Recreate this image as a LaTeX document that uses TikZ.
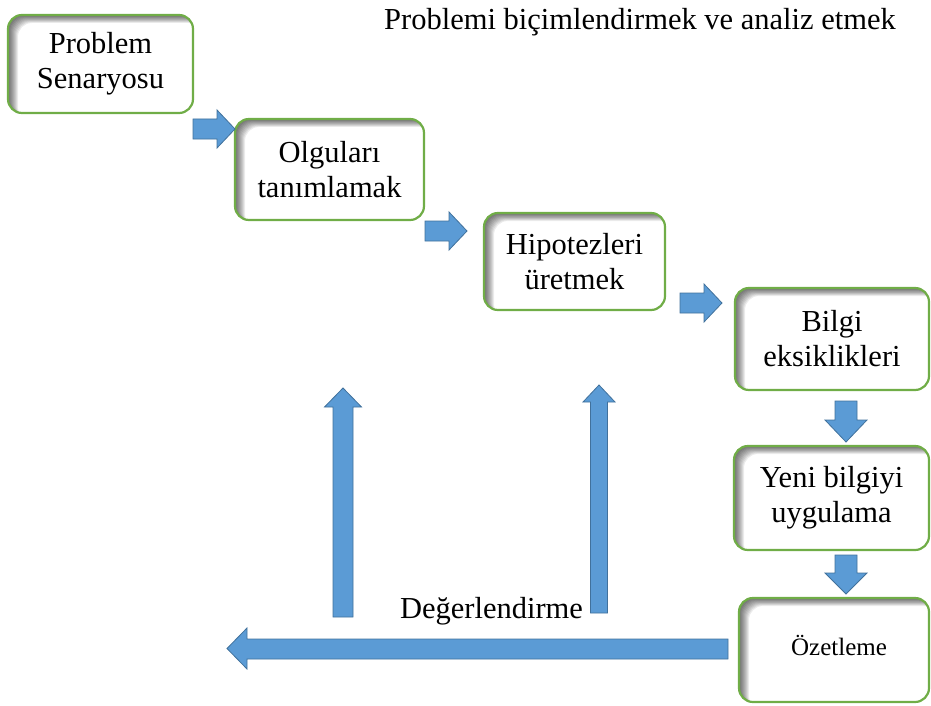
\documentclass[tikz,border=0pt]{standalone}
\usepackage{fontspec}
\setmainfont{Liberation Serif}
\definecolor{boxgreen}{HTML}{70AD47}
\definecolor{arrowfill}{HTML}{5B9BD5}
\definecolor{arrowedge}{HTML}{41719C}

% soft shadow along the inner top and left edges of a stage box
\newcommand\innershade[1]{%
  \begin{scope}
    \clip[rounded corners=14pt] (#1.south west) rectangle (#1.north east);
    \foreach \k in {1,...,10} {
      \fill[black, opacity=0.075, even odd rule]
        ([xshift=-20pt,yshift=20pt]#1.north west) rectangle ([xshift=20pt,yshift=-20pt]#1.south east)
        [rounded corners=14pt]
        ([xshift=\k pt,yshift=-0.8*\k pt]#1.north west) rectangle ([xshift=\k pt,yshift=-0.8*\k pt]#1.south east);
    }
  \end{scope}}

\begin{document}
\begin{tikzpicture}[x=1pt,y=-1pt,
  stage/.style={fill=white, align=center, inner sep=0pt, outer sep=0pt,
    rounded corners=14pt, font=\fontsize{30.5}{35}\selectfont},
  frame/.style={draw=boxgreen, line width=2.2pt, rounded corners=14pt},
  blockarr/.style={fill=arrowfill, draw=arrowedge, line width=0.8pt, line join=miter},
  label/.style={font=\fontsize{30.5}{35}\selectfont, inner sep=0pt}]
\useasboundingbox (0,0) rectangle (931,706);

% title
\node[label, anchor=base] (title) at (640,30) {Problemi biçimlendirmek ve analiz etmek};

% stages
\node[stage, minimum width=185pt, minimum height=98pt]  (p) at (100.5,64)  {Problem\\Senaryosu};
\node[stage, minimum width=189pt, minimum height=101pt] (o) at (329.5,169.5) {Olguları\\tanımlamak};
\node[stage, minimum width=181pt, minimum height=97pt]  (h) at (574.5,261.5) {Hipotezleri\\üretmek};
\node[stage, minimum width=194pt, minimum height=102pt] (b) at (832,339) {Bilgi\\eksiklikleri};
\node[stage, minimum width=195pt, minimum height=104pt] (y) at (831.5,498) {Yeni bilgiyi\\uygulama};
\node[stage, minimum width=190pt, minimum height=104pt] (z) at (834,650) {};

\foreach \n in {p,o,h,b,y,z} {
  \innershade{\n}
  \draw[frame] (\n.south west) rectangle (\n.north east);
}
\node[label, font=\fontsize{25}{30}\selectfont] (ztext) at (839,645) {Özetleme};

% block arrows to the right
\draw[blockarr] (193,119) -- (217,119) -- (217,110) -- (235,129) -- (217,148) -- (217,139) -- (193,139) -- cycle;
\draw[blockarr] (425,221) -- (449,221) -- (449,212) -- (467,231) -- (449,250) -- (449,241) -- (425,241) -- cycle;
\draw[blockarr] (680,293) -- (704,293) -- (704,284) -- (722,303) -- (704,322) -- (704,313) -- (680,313) -- cycle;

% block arrows downward
\draw[blockarr] (835,401) -- (857,401) -- (857,420) -- (867,420) -- (846,442) -- (825,420) -- (835,420) -- cycle;
\draw[blockarr] (835,555) -- (857,555) -- (857,573) -- (867,573) -- (846,594) -- (825,573) -- (835,573) -- cycle;

% long arrow to the left
\draw[blockarr] (728,639) -- (247,639) -- (247,628) -- (227,648.5) -- (247,669) -- (247,659) -- (728,659) -- cycle;

% arrows upward
\draw[blockarr] (333,617) -- (333,407) -- (324.5,407) -- (343,388) -- (361.5,407) -- (353,407) -- (353,617) -- cycle;
\draw[blockarr] (590.5,613) -- (590.5,402) -- (583,402) -- (599,385) -- (615,402) -- (607.5,402) -- (607.5,613) -- cycle;

\node[label, anchor=base] (eval) at (491.5,618) {Değerlendirme};
\end{tikzpicture}
\end{document}
